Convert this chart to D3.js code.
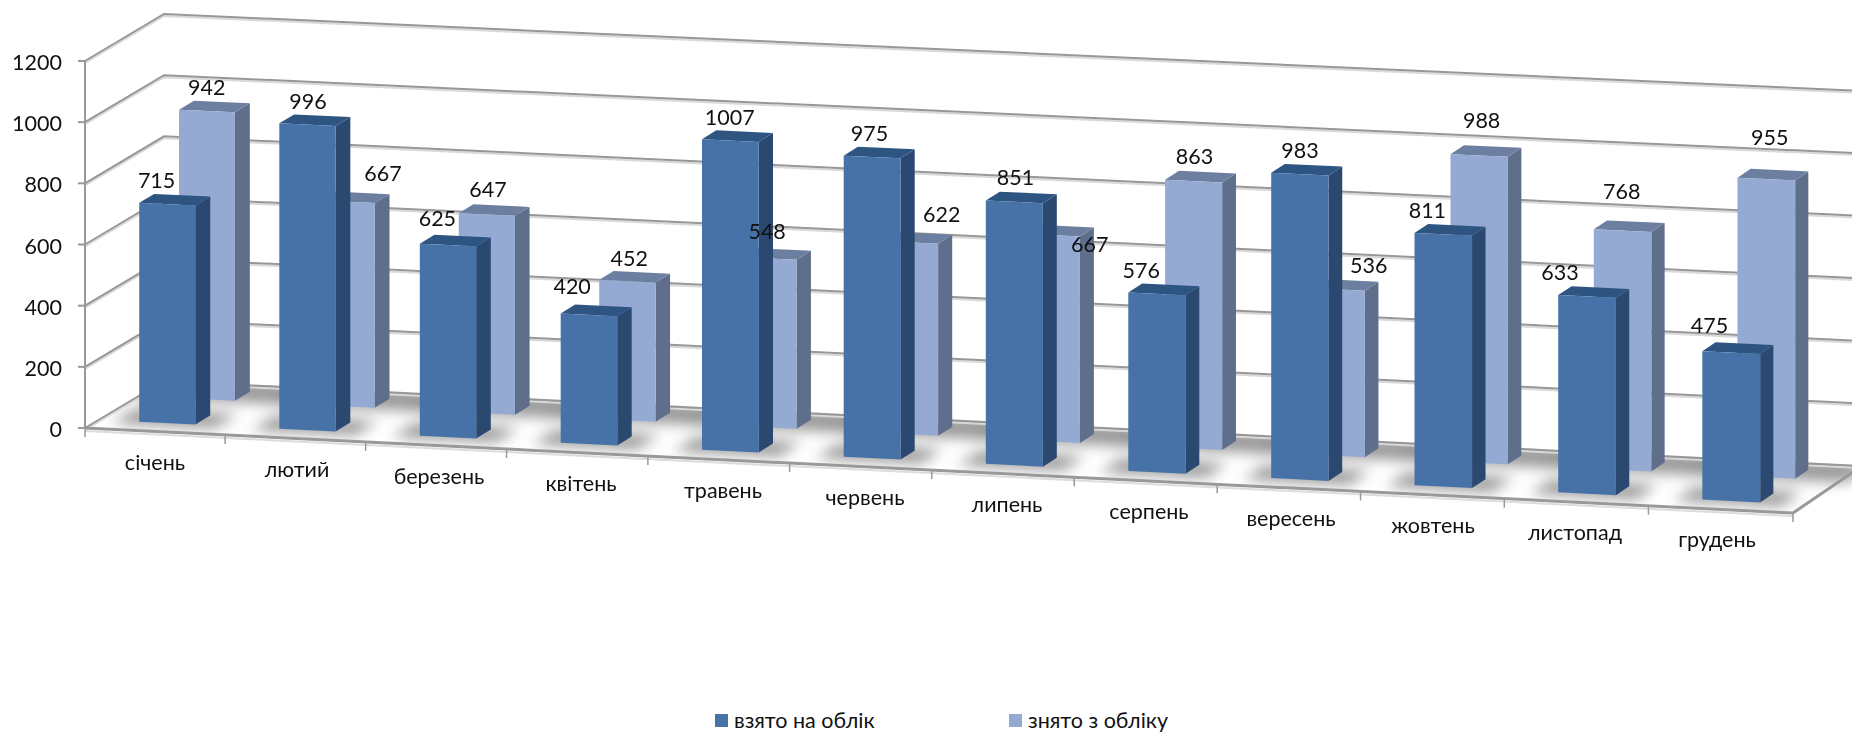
<!DOCTYPE html>
<html>
<head>
<meta charset="utf-8">
<script src="https://cdn.jsdelivr.net/npm/d3@7"></script>
<style>
  html, body { margin: 0; padding: 0; background: #fff; overflow: hidden; }
  svg text { font-family: Lato, "Open Sans", "Noto Sans", sans-serif; fill: #111; }
</style>
</head>
<body>
<svg id="chart" width="1852" height="732"></svg>
<script>
var categories = ["січень","лютий","березень","квітень","травень","червень","липень","серпень","вересень","жовтень","листопад","грудень"];
var taken   = [715,996,625,420,1007,975,851,576,983,811,633,475];
var removed = [942,667,647,452,548,622,667,863,536,988,768,955];
var seriesNames = ["взято на облік","знято з обліку"];
var yTicks = [0,200,400,600,800,1000,1200];

// hand placed data labels in the original, nudges from the default spot
var nudgeX = [[1,2,4,5,0,-1,7,0,1,-9,-14,-3],[3,49,14,21,14,44,48,3,46,-1,3,0]];
var nudgeY = [[-1,0,-4,-5,0,-1,-1,0,-1,-1,-1,-4],[0,-4,1,4,1,1,40,7,9,-1,-4,-5]];

var svg = d3.select("#chart");

// scales work in unit box coords, project() turns them into page pixels
var xScale = d3.scaleBand().domain(categories).range([0,1]);
var zScale = d3.scaleBand().domain(seriesNames).range([0.02,1.03]);
var yScale = d3.scaleLinear().domain([0,1200]).range([0,1]);
var barU = 0.0334, barD = 0.19;

function project(u, d, v) {
  var w = u + 0.017 * (u * u - u);
  var h = 367 * (1 + 0.022 * u);
  return [85 + 1708 * w + 79 * d - 10 * u * d, 428 + 85 * w - 47 * d - h * v];
}
function poly(pts) {
  return pts.map(function(p) { return project(p[0],p[1],p[2]).join(","); }).join(" ");
}
var seriesColors = [
  {front:"#4672a8", side:"#2b4970", top:"#2e5482"},
  {front:"#95aad3", side:"#5e6e8b", top:"#6d7fa0"}
];

var defs = svg.append("defs");
defs.append("filter").attr("id","blur").attr("x","-50%").attr("y","-50%").attr("width","200%").attr("height","200%")
  .append("feGaussianBlur").attr("stdDeviation",7);
defs.append("clipPath").attr("id","floorClip").append("polygon")
  .attr("points", poly([[0,0,0],[1.02,0,0],[1.02,1,0],[0,1,0]]));

// flatten both series into bar records
var bars = [];
seriesNames.forEach(function(name, s) {
  var vals = s == 0 ? taken : removed;
  categories.forEach(function(c, i) {
    var u0 = xScale(c) + xScale.bandwidth()/2 - barU/2 - 0.001;
    var mid = zScale(name) + zScale.bandwidth()/2;
    bars.push({s:s, i:i, cat:c, value:vals[i], u0:u0, u1:u0+barU, d0:mid-barD/2, d1:mid+barD/2, v:yScale(vals[i])});
  });
});

// floor
svg.append("polygon").attr("points", poly([[0,0,0],[1,0,0],[1,1,0],[0,1,0]])).attr("fill","#fff");
var shadows = svg.append("g").attr("clip-path","url(#floorClip)").append("g").attr("filter","url(#blur)");
shadows.selectAll("polygon").data(bars).join("polygon")
  .attr("fill","#8c8c8c").attr("opacity",0.9)
  .attr("points", function(b) {
    var pad = b.s == 0 ? 0.014 : 0.03;
    var d0 = b.s == 0 ? 0.12 : 0.66;
    var d1 = b.s == 0 ? 0.42 : 1.08;
    return poly([[b.u0-pad,d0,0],[b.u1+pad,d0,0],[b.u1+pad,d1,0],[b.u0-pad,d1,0]]);
  });

// walls: gridlines
var grid = svg.append("g");
function wallLine(sel, t, stroke, w, dy) {
  sel.append("polyline").attr("fill","none").attr("stroke",stroke).attr("stroke-width",w)
    .attr("points", poly([[0,0,yScale(t)],[0,1,yScale(t)],[1.02,1,yScale(t)]]))
    .attr("transform","translate(0,"+dy+")");
}
yTicks.forEach(function(t) {
  wallLine(grid, t, "#d9d9d9", 2, 2);
  wallLine(grid, t, "#979797", 2, 0);
});

// floor edges and axes
var axis = svg.append("g").attr("stroke","#999").attr("fill","none");
axis.append("line").attr("x1",85).attr("x2",85).attr("y1",project(0,0,1)[1]).attr("y2",project(0,0,0)[1]).attr("stroke-width",2);
axis.append("polyline").attr("points", poly([[0,0,0],[1,0,0],[1,1,0]])).attr("stroke-width",3);
axis.append("polyline").attr("points", poly([[0,0,0],[1,0,0]])).attr("stroke","#dcdcdc").attr("stroke-width",2).attr("transform","translate(0,3)");
axis.selectAll(".ytick").data(yTicks).join("line").attr("class","ytick")
  .attr("x1",78).attr("x2",85)
  .attr("y1",function(t){return project(0,0,yScale(t))[1];})
  .attr("y2",function(t){return project(0,0,yScale(t))[1];})
  .attr("stroke-width",2);
axis.selectAll(".xtick").data(d3.range(13)).join("line").attr("class","xtick")
  .attr("x1",function(i){return project(i/12,0,0)[0];}).attr("x2",function(i){return project(i/12,0,0)[0];})
  .attr("y1",function(i){return project(i/12,0,0)[1];}).attr("y2",function(i){return project(i/12,0,0)[1]+9;})
  .attr("stroke-width",1.5);

// bars: back series first
var barGroups = svg.append("g").selectAll("g").data(bars.slice().sort(function(a,b){return b.s-a.s;})).join("g");
barGroups.append("polygon").attr("fill",function(b){return seriesColors[b.s].side;})
  .attr("points",function(b){return poly([[b.u1,b.d0,0],[b.u1,b.d1,0],[b.u1,b.d1,b.v],[b.u1,b.d0,b.v]]);});
barGroups.append("polygon").attr("fill",function(b){return seriesColors[b.s].top;})
  .attr("points",function(b){return poly([[b.u0,b.d0,b.v],[b.u1,b.d0,b.v],[b.u1,b.d1,b.v],[b.u0,b.d1,b.v]]);});
barGroups.append("polygon").attr("fill",function(b){return seriesColors[b.s].front;})
  .attr("points",function(b){return poly([[b.u0,b.d0,0],[b.u1,b.d0,0],[b.u1,b.d0,b.v],[b.u0,b.d0,b.v]]);});

// value labels
svg.append("g").selectAll("text").data(bars).join("text")
  .attr("text-anchor","middle").attr("font-size",21.5)
  .attr("x",function(b){
    var um = (b.u0+b.u1)/2, dm = (b.d0+b.d1)/2;
    return project(um,dm,b.v)[0] + 10*um*dm - 45 + 0.036*b.value + nudgeX[b.s][b.i];
  })
  .attr("y",function(b){ return project((b.u0+b.u1)/2,(b.d0+b.d1)/2,b.v)[1] - 11 - 14*(b.u0)*(b.s==1?1:0) + nudgeY[b.s][b.i]; })
  .text(function(b){return b.value;});

// value axis labels
svg.append("g").selectAll("text").data(yTicks).join("text")
  .attr("text-anchor","end").attr("font-size",21.5).attr("x",62)
  .attr("y",function(t){return project(0,0,yScale(t))[1]+9;})
  .text(function(t){return t;});

// category labels
svg.append("g").selectAll("text").data(categories).join("text")
  .attr("text-anchor","middle").attr("font-size",21.5)
  .attr("x",function(c,i){return 155 + 142*i;})
  .attr("y",function(c,i){return 470 + 7*i;})
  .text(function(c){return c;});

// legend
var legendX = [715,1009];
var lg = svg.append("g").selectAll("g").data(seriesNames).join("g")
  .attr("transform",function(n,i){return "translate("+legendX[i]+",714)";});
lg.append("rect").attr("width",13).attr("height",13).attr("fill",function(n,i){return seriesColors[i].front;});
lg.append("text").attr("x",19).attr("y",14).attr("font-size",21.5).text(function(n){return n;});
</script>
</body>
</html>
